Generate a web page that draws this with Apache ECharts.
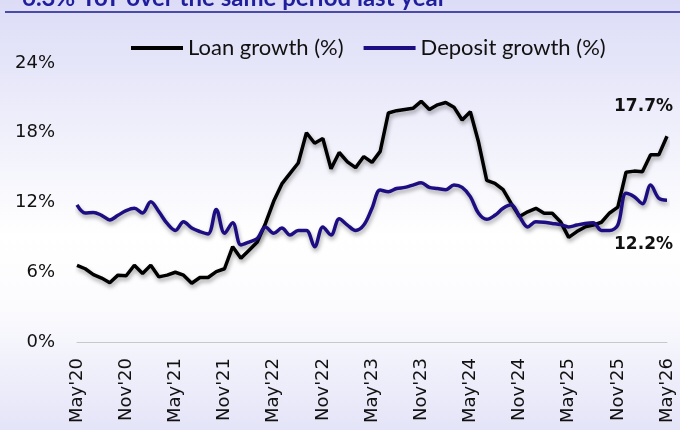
<!DOCTYPE html>
<html>
<head>
<meta charset="utf-8">
<script src="https://cdn.jsdelivr.net/npm/echarts@6/dist/echarts.min.js"></script>
<style>
html,body{margin:0;padding:0;background:#fff;}
#chart{width:680px;height:430px;}
</style>
</head>
<body>
<div id="chart"></div>
<script>
const categories = [
"May'20","Jun'20","Jul'20","Aug'20","Sep'20","Oct'20","Nov'20","Dec'20","Jan'21","Feb'21","Mar'21","Apr'21",
"May'21","Jun'21","Jul'21","Aug'21","Sep'21","Oct'21","Nov'21","Dec'21","Jan'22","Feb'22","Mar'22","Apr'22",
"May'22","Jun'22","Jul'22","Aug'22","Sep'22","Oct'22","Nov'22","Dec'22","Jan'23","Feb'23","Mar'23","Apr'23",
"May'23","Jun'23","Jul'23","Aug'23","Sep'23","Oct'23","Nov'23","Dec'23","Jan'24","Feb'24","Mar'24","Apr'24",
"May'24","Jun'24","Jul'24","Aug'24","Sep'24","Oct'24","Nov'24","Dec'24","Jan'25","Feb'25","Mar'25","Apr'25",
"May'25","Jun'25","Jul'25","Aug'25","Sep'25","Oct'25","Nov'25","Dec'25","Jan'26","Feb'26","Mar'26","Apr'26",
"May'26"];

const loanGrowth = [
6.6, 6.3, 5.8, 5.5, 5.1, 5.75, 5.7, 6.6, 5.9, 6.6, 5.6, 5.75,
6.0, 5.75, 5.05, 5.55, 5.55, 6.05, 6.3, 8.2, 7.2, 7.9, 8.6, 10.2,
12.1, 13.6, 14.5, 15.4, 18.0, 17.1, 17.5, 14.9, 16.3, 15.5, 15.0, 15.95,
15.45, 16.4, 19.7, 19.9, 20.0, 20.1, 20.7, 20.0, 20.4, 20.6, 20.2, 19.1,
19.8, 17.2, 13.9, 13.65, 13.1, 11.9, 10.8, 11.2, 11.5, 11.07, 11.07, 10.35,
9.0, 9.5, 9.9, 10.06, 10.3, 11.1, 11.6, 14.6, 14.7, 14.65, 16.1, 16.1,
17.7];

const depositGrowth = [
11.8, 11.1, 11.15, 10.9, 10.5, 10.9, 11.3, 11.5, 11.1, 12.07, 11.2, 10.2,
9.6, 10.35, 9.8, 9.5, 9.3, 11.4, 9.35, 10.26, 8.35, 8.6, 8.9, 9.9,
9.35, 9.8, 9.2, 9.6, 9.6, 8.2, 9.9, 9.2, 10.6, 10.06, 9.6, 10.06,
11.5, 13.07, 12.93, 13.2, 13.3, 13.5, 13.7, 13.3, 13.2, 13.1, 13.5, 13.3,
12.5, 11.07, 10.55, 10.9, 11.5, 11.8, 10.8, 9.9, 10.35, 10.3, 10.2, 10.1,
9.9, 10.06, 10.2, 10.26, 9.6, 9.6, 10.06, 12.8, 12.5, 11.9, 13.5, 12.36,
12.2];

const yTicks = [0, 6, 12, 18, 24];
const seriesNames = ['Loan growth (%)', 'Deposit growth (%)'];
const endLabels = ['17.7%', '12.2%'];
const titleText = '6.3% YoY over the same period last year';

const NARROW = 'Lato';
const AXISFONT = 'DejaVu Sans';
const chart = echarts.init(document.getElementById('chart'));

const shadow = { shadowColor: 'rgba(0,0,0,0.35)', shadowBlur: 4, shadowOffsetX: 1, shadowOffsetY: 3 };

chart.setOption({
  animation: false,
  graphic: [
    { type: 'rect', z: -100, silent: true,
      shape: { x: 0, y: 0, width: 680, height: 430 },
      style: { fill: new echarts.graphic.LinearGradient(0, 0, 0, 1, [
        { offset: 0, color: '#dcdcf7' },
        { offset: 0.55, color: '#ffffff' },
        { offset: 0.72, color: '#fbfbfe' },
        { offset: 1, color: '#e4e4f8' }
      ]) } },
    { type: 'text', silent: true, x: 22, y: -14,
      style: { text: titleText, font: 'bold 24px Lato', fill: '#1f1f9e', verticalAlign: 'top', align: 'left' } },
    { type: 'line', silent: true,
      shape: { x1: 5, y1: 12, x2: 680, y2: 12 },
      style: { stroke: '#1a1a8c', lineWidth: 1.5 } }
  ],
  legend: {
    top: 32, left: 126,
    itemWidth: 52, itemHeight: 4, itemGap: 20,
    icon: 'rect',
    textStyle: { fontFamily: NARROW, fontSize: 22, color: '#111111' },
    data: seriesNames
  },
  grid: { left: 77, right: 13, top: 63, bottom: 88, containLabel: false },
  xAxis: {
    type: 'category', data: categories, boundaryGap: false,
    axisLine: { lineStyle: { color: '#c8c8c8', width: 1 } },
    axisTick: { show: false },
    axisLabel: { interval: 5, rotate: 90, margin: 16, fontFamily: AXISFONT, fontSize: 18, color: '#111111' }
  },
  yAxis: {
    type: 'value', min: yTicks[0], max: yTicks[yTicks.length - 1], interval: 6,
    splitLine: { show: false },
    axisLine: { show: false }, axisTick: { show: false },
    axisLabel: { formatter: '{value}%', margin: 22, fontFamily: AXISFONT, fontSize: 18, color: '#111111' }
  },
  series: [
    { name: seriesNames[0], type: 'line', data: loanGrowth,
      showSymbol: false, symbol: 'none', smooth: false,
      itemStyle: { color: '#000000' },
      lineStyle: Object.assign({ color: '#000000', width: 3.5 }, shadow),
      endLabel: { show: true, formatter: endLabels[0], align: 'right', verticalAlign: 'middle', distance: 0,
        offset: [6, -30], fontFamily: AXISFONT, fontWeight: 'bold', fontSize: 17, color: '#111111' } },
    { name: seriesNames[1], type: 'line', data: depositGrowth,
      showSymbol: false, symbol: 'none', smooth: 0.35,
      itemStyle: { color: '#1c0e82' },
      lineStyle: Object.assign({ color: '#1c0e82', width: 3.5 }, shadow),
      endLabel: { show: true, formatter: endLabels[1], align: 'right', verticalAlign: 'middle', distance: 0,
        offset: [6, 44], fontFamily: AXISFONT, fontWeight: 'bold', fontSize: 17, color: '#111111' } }
  ]
});
</script>
</body>
</html>
